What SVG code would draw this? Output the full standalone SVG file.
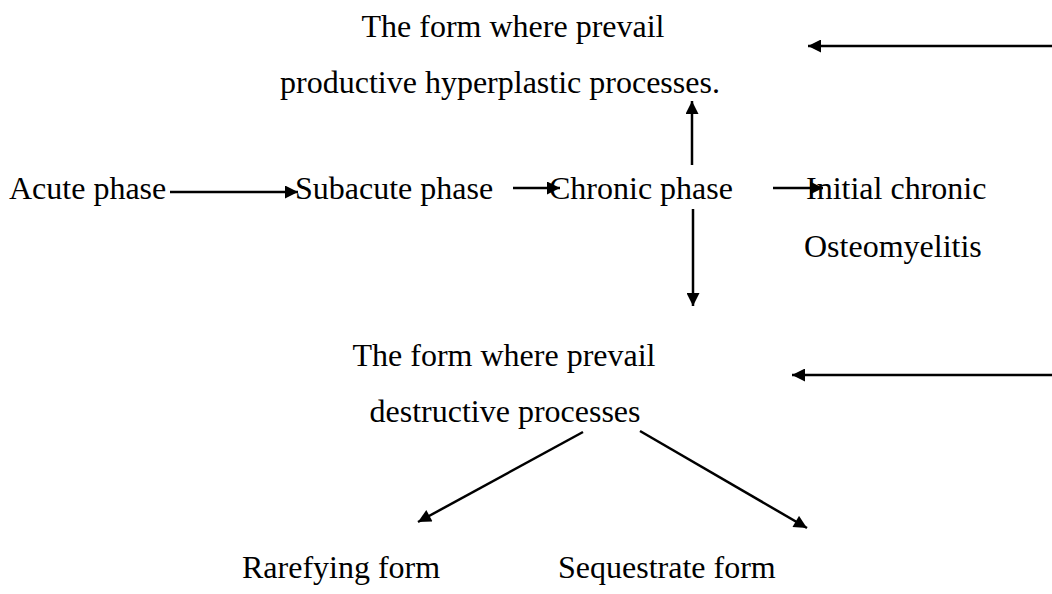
<svg xmlns="http://www.w3.org/2000/svg" width="1052" height="594" viewBox="0 0 1052 594">
<style>
text{font-family:"Liberation Serif","Times New Roman",serif;font-size:32px;fill:#000}
.c line{stroke:#000;stroke-width:2.5;fill:none}
</style>
<defs>
<marker id="ah" viewBox="0 0 10 10" refX="10" refY="5" markerWidth="15" markerHeight="13" markerUnits="userSpaceOnUse" orient="auto"><path d="M0,0L10,5L0,10z" fill="#000"/></marker>
</defs>
<rect width="1052" height="594" fill="#fff"/>
<g id="n_productive"><text x="513" y="37" text-anchor="middle">The form where prevail</text><text x="500" y="93" text-anchor="middle">productive hyperplastic processes.</text></g>
<g id="n_acute"><text x="9" y="199">Acute phase</text></g>
<g id="n_subacute"><text x="295" y="199">Subacute phase</text></g>
<g id="n_chronic"><text x="549" y="199">Chronic phase</text></g>
<g id="n_initial"><text x="806" y="199">Initial chronic</text><text x="804" y="257">Osteomyelitis</text></g>
<g id="n_destructive"><text x="504" y="366" text-anchor="middle">The form where prevail</text><text x="505" y="422" text-anchor="middle">destructive processes</text></g>
<g id="n_rarefying"><text x="242" y="578">Rarefying form</text></g>
<g id="n_sequestrate"><text x="558" y="578">Sequestrate form</text></g>
<g class="c" id="connectors">
<line x1="170" y1="192" x2="298" y2="192" marker-end="url(#ah)"/>
<line x1="513" y1="188" x2="560" y2="188" marker-end="url(#ah)"/>
<line x1="773" y1="188" x2="823" y2="188" marker-end="url(#ah)"/>
<line x1="692" y1="165" x2="692" y2="101" marker-end="url(#ah)"/>
<line x1="693" y1="209" x2="693" y2="306" marker-end="url(#ah)"/>
<line x1="1052" y1="46" x2="808" y2="46" marker-end="url(#ah)"/>
<line x1="1052" y1="375" x2="792" y2="375" marker-end="url(#ah)"/>
<line x1="583" y1="432" x2="418" y2="522" marker-end="url(#ah)"/>
<line x1="640" y1="431" x2="807" y2="528" marker-end="url(#ah)"/>
</g>
</svg>
